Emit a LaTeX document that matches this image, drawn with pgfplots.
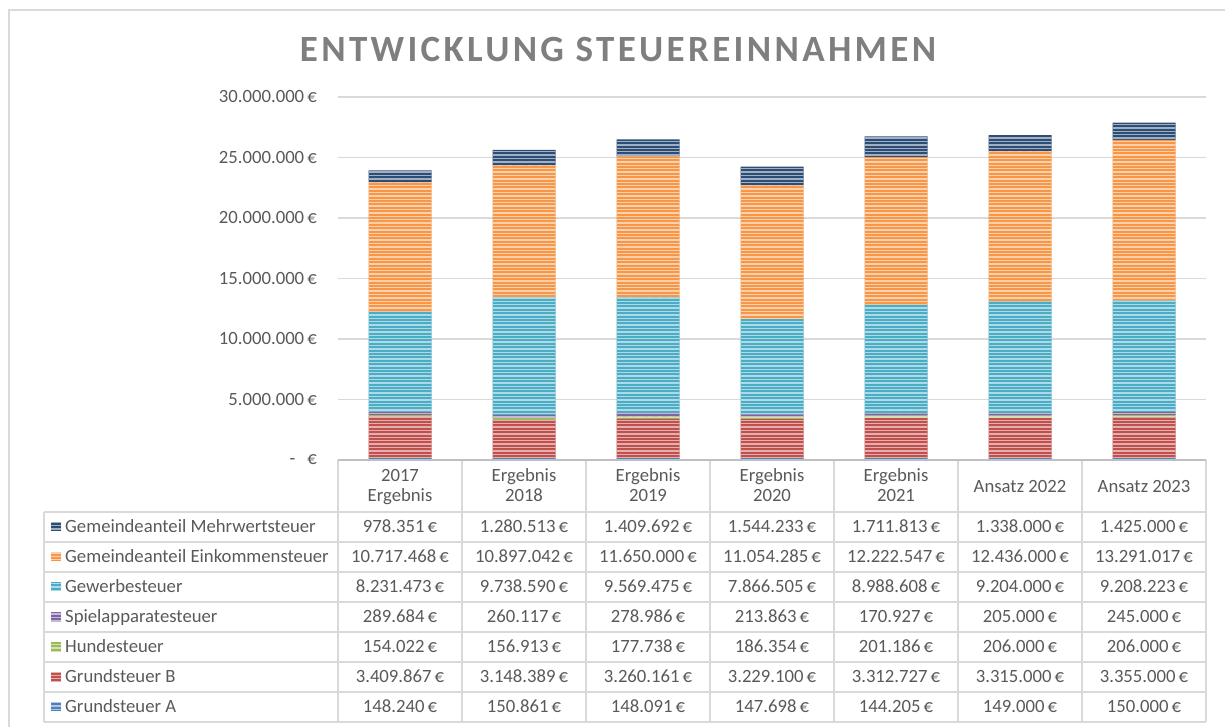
\documentclass[border=0pt]{standalone}
\usepackage{fontspec}
\setmainfont{Carlito}
\newfontfamily\titlefont[LetterSpace=9]{Carlito Bold}
\usepackage{pgfplots}
\usepackage{pgfplotstable}
\pgfplotsset{compat=1.18}
\usetikzlibrary{patterns}
\definecolor{cGA}{HTML}{4F81BD}
\definecolor{cGB}{HTML}{C0504D}
\definecolor{cHu}{HTML}{9BBB59}
\definecolor{cSp}{HTML}{8064A2}
\definecolor{cGw}{HTML}{4BACC6}
\definecolor{cEk}{HTML}{F79646}
\definecolor{cMw}{HTML}{2C4D75}
\definecolor{txt}{HTML}{595959}
\definecolor{gridc}{HTML}{D9D9D9}
\definecolor{basec}{HTML}{BFBFBF}
\definecolor{titlec}{HTML}{7F7F7F}
\pgfdeclarepatternformonly{hstripes}{\pgfpoint{-2bp}{-0.5bp}}{\pgfpoint{12bp}{3.9bp}}{\pgfpoint{10bp}{3.4bp}}{\pgfpathrectangle{\pgfpoint{-2bp}{0bp}}{\pgfpoint{14bp}{1.4bp}}\pgfusepath{fill}}
\tikzset{stripes/.style={fill=#1, draw=none, postaction={pattern=hstripes, pattern color=#1!45!white}}}
\newcommand\tabfont{\fontsize{18.7bp}{22bp}\selectfont}

\pgfplotstableread{
x GA GB Hu Sp Gw Ek Mw
0 148240 3409867 154022 289684 8231473 10717468 978351
1 150861 3148389 156913 260117 9738590 10897042 1280513
2 148091 3260161 177738 278986 9569475 11650000 1409692
3 147698 3229100 186354 213863 7866505 11054285 1544233
4 144205 3312727 201186 170927 8988608 12222547 1711813
5 149000 3315000 206000 205000 9204000 12436000 1338000
6 150000 3355000 206000 245000 9208223 13291017 1425000
}\steuer

\newcommand\tabrow[4]{%
  \fill[stripes=#3] (51,#1-4.5) rectangle (61,#1+4.5);
  \node[anchor=base west, text=txt, font=\tabfont, inner sep=0pt] at (65,#1-5.8) {#2};
  \foreach \v [count=\i from 0] in {#4} {\node[anchor=base, text=txt, font=\tabfont, inner sep=0pt] at ({400+124*\i},#1-5.8) {\v\,€};}
}

\begin{document}
\begin{tikzpicture}[x=1bp,y=1bp]
\useasboundingbox (0,0) rectangle (1225,727);
\draw[gridc, line width=2bp] (9,0) -- (9,717) -- (1225,717);
\node[anchor=base, text=titlec, font={\titlefont\fontsize{37bp}{40bp}\selectfont}, inner sep=0pt] at (618,665.3) {ENTWICKLUNG STEUEREINNAHMEN};
\begin{axis}[
  at={(338bp,267bp)}, anchor=south west,
  width=868bp, height=363bp, scale only axis,
  ybar stacked, bar width=63bp,
  xmin=-0.5, xmax=6.5, ymin=0, ymax=30000000,
  xtick=\empty,
  scaled y ticks=false,
  ytick={0,5000000,10000000,15000000,20000000,25000000,30000000},
  yticklabels={{-\hspace{12bp}€},{5.000.000\,€},{10.000.000\,€},{15.000.000\,€},{20.000.000\,€},{25.000.000\,€},{30.000.000\,€}},
  yticklabel style={text=txt, font=\tabfont, inner sep=0pt, anchor=east, xshift=-21bp},
  major tick length=0pt,
  axis line style={draw=none},
  ymajorgrids, major grid style={gridc, line width=1.3bp},
]
\addplot[stripes=cGA] table[x=x,y=GA]{\steuer};
\addplot[stripes=cGB] table[x=x,y=GB]{\steuer};
\addplot[stripes=cHu] table[x=x,y=Hu]{\steuer};
\addplot[stripes=cSp] table[x=x,y=Sp]{\steuer};
\addplot[stripes=cGw] table[x=x,y=Gw]{\steuer};
\addplot[stripes=cEk] table[x=x,y=Ek]{\steuer};
\addplot[stripes=cMw] table[x=x,y=Mw]{\steuer};
\end{axis}
% data table grid
\foreach \yy in {215,185,155,125,95,65,35,5} {\draw[gridc, line width=1.3bp] (44,\yy) -- (1206,\yy);}
\foreach \xx in {338,462,586,710,834,958,1082,1206} {\draw[gridc, line width=1.3bp] (\xx,267) -- (\xx,5);}
\draw[gridc, line width=1.3bp] (44,215) -- (44,5);
\draw[basec, line width=2bp] (338,267) -- (1206,267);
% header
\node[anchor=base, text=txt, font=\tabfont, inner sep=0pt] at (400,245) {2017};
\node[anchor=base, text=txt, font=\tabfont, inner sep=0pt] at (400,225) {Ergebnis};
\foreach \yr [count=\i from 1] in {2018,2019,2020,2021} {
  \node[anchor=base, text=txt, font=\tabfont, inner sep=0pt] at ({400+124*\i},245) {Ergebnis};
  \node[anchor=base, text=txt, font=\tabfont, inner sep=0pt] at ({400+124*\i},225) {\yr};
}
\node[anchor=base, text=txt, font=\tabfont, inner sep=0pt] at (1020,234) {Ansatz 2022};
\node[anchor=base, text=txt, font=\tabfont, inner sep=0pt] at (1144,234) {Ansatz 2023};
% rows
\tabrow{200}{Gemeindeanteil Mehrwertsteuer}{cMw}{978.351,1.280.513,1.409.692,1.544.233,1.711.813,1.338.000,1.425.000}
\tabrow{170}{Gemeindeanteil Einkommensteuer}{cEk}{10.717.468,10.897.042,11.650.000,11.054.285,12.222.547,12.436.000,13.291.017}
\tabrow{140}{Gewerbesteuer}{cGw}{8.231.473,9.738.590,9.569.475,7.866.505,8.988.608,9.204.000,9.208.223}
\tabrow{110}{Spielapparatesteuer}{cSp}{289.684,260.117,278.986,213.863,170.927,205.000,245.000}
\tabrow{80}{Hundesteuer}{cHu}{154.022,156.913,177.738,186.354,201.186,206.000,206.000}
\tabrow{50}{Grundsteuer B}{cGB}{3.409.867,3.148.389,3.260.161,3.229.100,3.312.727,3.315.000,3.355.000}
\tabrow{20}{Grundsteuer A}{cGA}{148.240,150.861,148.091,147.698,144.205,149.000,150.000}
\end{tikzpicture}
\end{document}
